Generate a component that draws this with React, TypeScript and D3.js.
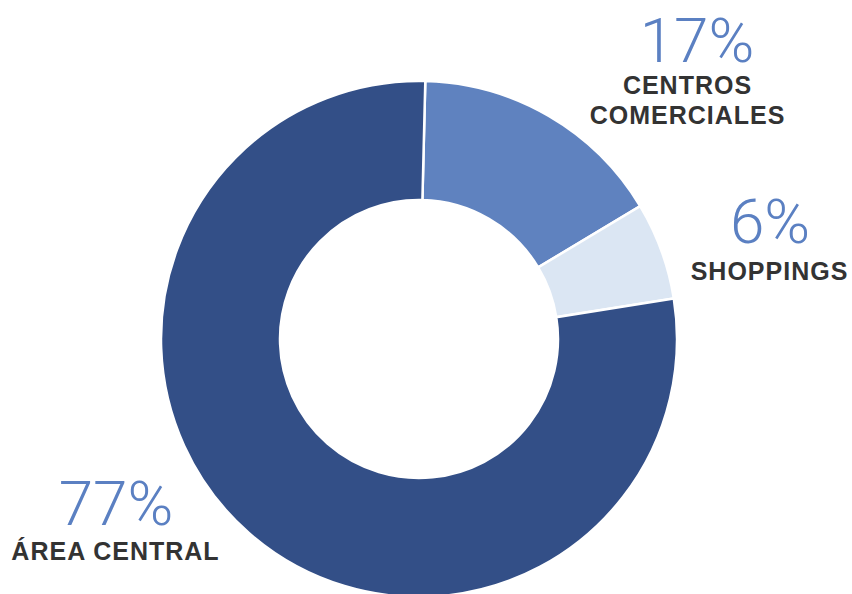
import React from "react";
import * as d3 from "d3";

const categories = ["CENTROS COMERCIALES", "SHOPPINGS", "ÁREA CENTRAL"];
// slice sizes (labels are the printed rounded figures)
const values = [16.0, 6.1, 77.9];
const percentLabels = ["17%", "6%", "77%"];
const labelLines = [["CENTROS", "COMERCIALES"], ["SHOPPINGS"], ["ÁREA CENTRAL"]];
const colors = ["#5f82bf", "#dbe6f3", "#334f87"];

// layout: percent text center/baseline, category label center/first baseline
const pctPos = [[697, 62], [770, 243], [116, 525]];
const catPos = [[687, 94], [769, 280], [115, 560]];

const W = 852;
const H = 594;
const cx = 419;
const cy = 339;
const outerR = 258;
const innerR = 139;
const start = (1.4 * Math.PI) / 180;

const App: React.FC = () => {
  const pie = d3
    .pie<number>()
    .sort(null)
    .startAngle(start)
    .endAngle(start + Math.PI * 2)
    .value((d) => d);
  const arcs = pie(values);
  const arc = d3.arc<d3.PieArcDatum<number>>().innerRadius(innerR).outerRadius(outerR);

  return (
    <svg
      width={W}
      height={H}
      style={{ position: "absolute", left: 0, top: 0, background: "#fff" }}
    >
      <g transform={`translate(${cx},${cy})`}>
        {arcs.map((a, i) => (
          <path key={categories[i]} d={arc(a)!} fill={colors[i]} stroke="#fff" strokeWidth={2.5} />
        ))}
      </g>
      {categories.map((c, i) => (
        <g key={c} textAnchor="middle">
          <text
            x={pctPos[i][0]}
            y={pctPos[i][1]}
            fontFamily="Roboto, 'Liberation Sans', sans-serif"
            fontWeight={300}
            fontSize={62}
            fill="#5b80c2"
          >
            {percentLabels[i]}
          </text>
          {labelLines[i].map((l, j) => (
            <text
              key={l}
              x={catPos[i][0] + 0.5}
              y={catPos[i][1] + j * 30}
              fontFamily="'Liberation Sans', Arial, sans-serif"
              fontWeight={700}
              fontSize={25}
              letterSpacing={1}
              fill="#333"
            >
              {l}
            </text>
          ))}
        </g>
      ))}
    </svg>
  );
};

export default App;
